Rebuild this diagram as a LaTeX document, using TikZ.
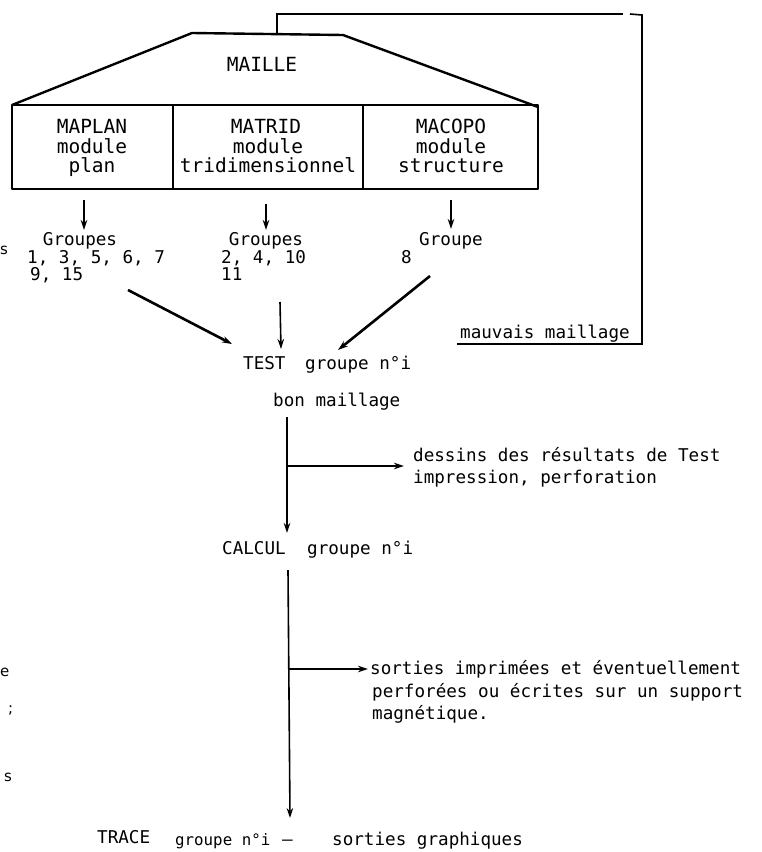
\documentclass[tikz,border=0pt]{standalone}
\usepackage{fontspec}
\setmonofont{DejaVu Sans Mono}
\setsansfont{DejaVu Sans}
\usetikzlibrary{arrows.meta}
\begin{document}
\begin{tikzpicture}[x=1pt,y=-1pt,
  txt/.style={font=\ttfamily\fontsize{17.6}{17.6}\selectfont, inner sep=0pt, anchor=base west},
  ctxt/.style={txt, anchor=base},
  smalltxt/.style={txt, font=\ttfamily\fontsize{15.8}{15.8}\selectfont},
  boxtxt/.style={font=\ttfamily\fontsize{19.5}{19.5}\selectfont, inner sep=0pt, anchor=base},
  stray/.style={font=\sffamily\fontsize{15}{15}\selectfont, inner sep=0pt, anchor=base west},
  boxline/.style={line width=2.4pt, line join=round},
  ln/.style={line width=1.6pt},
  thickln/.style={line width=2.6pt},
  arr/.style={-{Stealth[length=10pt,width=6.5pt]}}]
\useasboundingbox (0,0) rectangle (762,852);

% ---- MAILLE block ----
\draw[boxline] (12,105) -- (192,33) -- (343,35) -- (538,107);
\draw[boxline] (12,105) rectangle (538,189);
\draw[boxline] (173,106) -- (173,189);
\draw[boxline] (363,106) -- (363,189);
\node[boxtxt] (maille) at (262,71) {MAILLE};

\node[boxtxt] (maplan) at (92,133) {MAPLAN};
\node[boxtxt] (maplan2) at (92,153) {module};
\node[boxtxt] (maplan3) at (92,172) {plan};
\node[boxtxt] (matrid) at (266,133) {MATRID};
\node[boxtxt] (matrid2) at (268,153) {module};
\node[boxtxt] (matrid3) at (268,172) {tridimensionnel};
\node[boxtxt] (macopo) at (451,133) {MACOPO};
\node[boxtxt] (macopo2) at (451,153) {module};
\node[boxtxt] (macopo3) at (451,172) {structure};

% ---- groups ----
\node[ctxt] (g1) at (80,245) {Groupes};
\node[txt] (g1a) at (27,263) {1, 3, 5, 6, 7};
\node[txt] (g1b) at (30,280) {9, 15};
\node[ctxt] (g2) at (266,245) {Groupes};
\node[txt] (g2a) at (221,263) {2, 4, 10};
\node[txt] (g2b) at (221,280) {11};
\node[ctxt] (g3) at (451,245) {Groupe};
\node[txt] (g3a) at (401,263) {8};

\coordinate (a1s) at (84,200);  \coordinate (a1e) at (84,230);
\coordinate (a2s) at (266,204); \coordinate (a2e) at (266,230);
\coordinate (a3s) at (451,200); \coordinate (a3e) at (451,229);
\draw[ln,arr] (a1s) -- (a1e);
\draw[ln,arr] (a2s) -- (a2e);
\draw[ln,arr] (a3s) -- (a3e);

% ---- TEST ----
\node[txt] (test) at (243,369) {TEST};
\node[txt] (testg) at (305,369) {groupe n°i};
\node[txt] (mauv) at (460,338) {mauvais maillage};
\node[txt] (bon) at (273,406) {bon maillage};

\coordinate (c1s) at (128,290); \coordinate (c1e) at (232,344);
\coordinate (c2s) at (280,302); \coordinate (c2e) at (281,349);
\coordinate (c3s) at (430,276); \coordinate (c3e) at (338,350);
\draw[thickln,arr] (c1s) -- (c1e);
\draw[ln,arr] (c2s) -- (c2e);
\draw[thickln,arr] (c3s) -- (c3e);

% feedback loop
\coordinate (fb0) at (277,35);
\coordinate (fb1) at (277,14);
\coordinate (fb2) at (623,14);
\coordinate (fb3) at (630,14);
\coordinate (fb4) at (642,15);
\coordinate (fb5) at (642,344);
\coordinate (fb6) at (457,344);
\draw[ln] (fb0) -- (fb1) -- (fb2);
\draw[ln] (fb3) -- (fb4) -- (fb5) -- (fb6);

% ---- to CALCUL ----
\coordinate (v1s) at (287,417); \coordinate (v1e) at (287,533);
\coordinate (b1s) at (287,466); \coordinate (b1e) at (404,466);
\draw[ln,arr] (v1s) -- (v1e);
\draw[thickln,arr] (b1s) -- (b1e);
\node[txt] (dess) at (413,461) {dessins des résultats de Test};
\node[txt] (impr) at (413,483) {impression, perforation};

\node[txt] (calc) at (222,554) {CALCUL};
\node[txt] (calcg) at (307,554) {groupe n°i};

% ---- to TRACE ----
\coordinate (v2s) at (288,570); \coordinate (v2e) at (290,818);
\coordinate (b2s) at (288,669); \coordinate (b2e) at (368,669);
\draw[ln,arr] (v2s) -- (v2e);
\draw[thickln,arr] (b2s) -- (b2e);
\node[txt] (sort1) at (370,674) {sorties imprimées et éventuellement};
\node[txt] (sort2) at (372,697) {perforées ou écrites sur un support};
\node[txt] (sort3) at (372,719) {magnétique.};

\node[txt] (trace) at (97,843) {TRACE};
\node[smalltxt] (traceg) at (175,845) {groupe n°i};
\node[txt] (dash) at (282,845) {—};
\node[txt] (graph) at (332,845) {sorties graphiques};

% ---- stray marks at the left edge (neighbouring column) ----
\node[stray] (s1) at (0,254) {s};
\node[stray] (s2) at (0,676) {e};
\node[stray] (s3) at (8,713) {;};
\node[stray] (s4) at (4,781) {s};
\end{tikzpicture}
\end{document}
